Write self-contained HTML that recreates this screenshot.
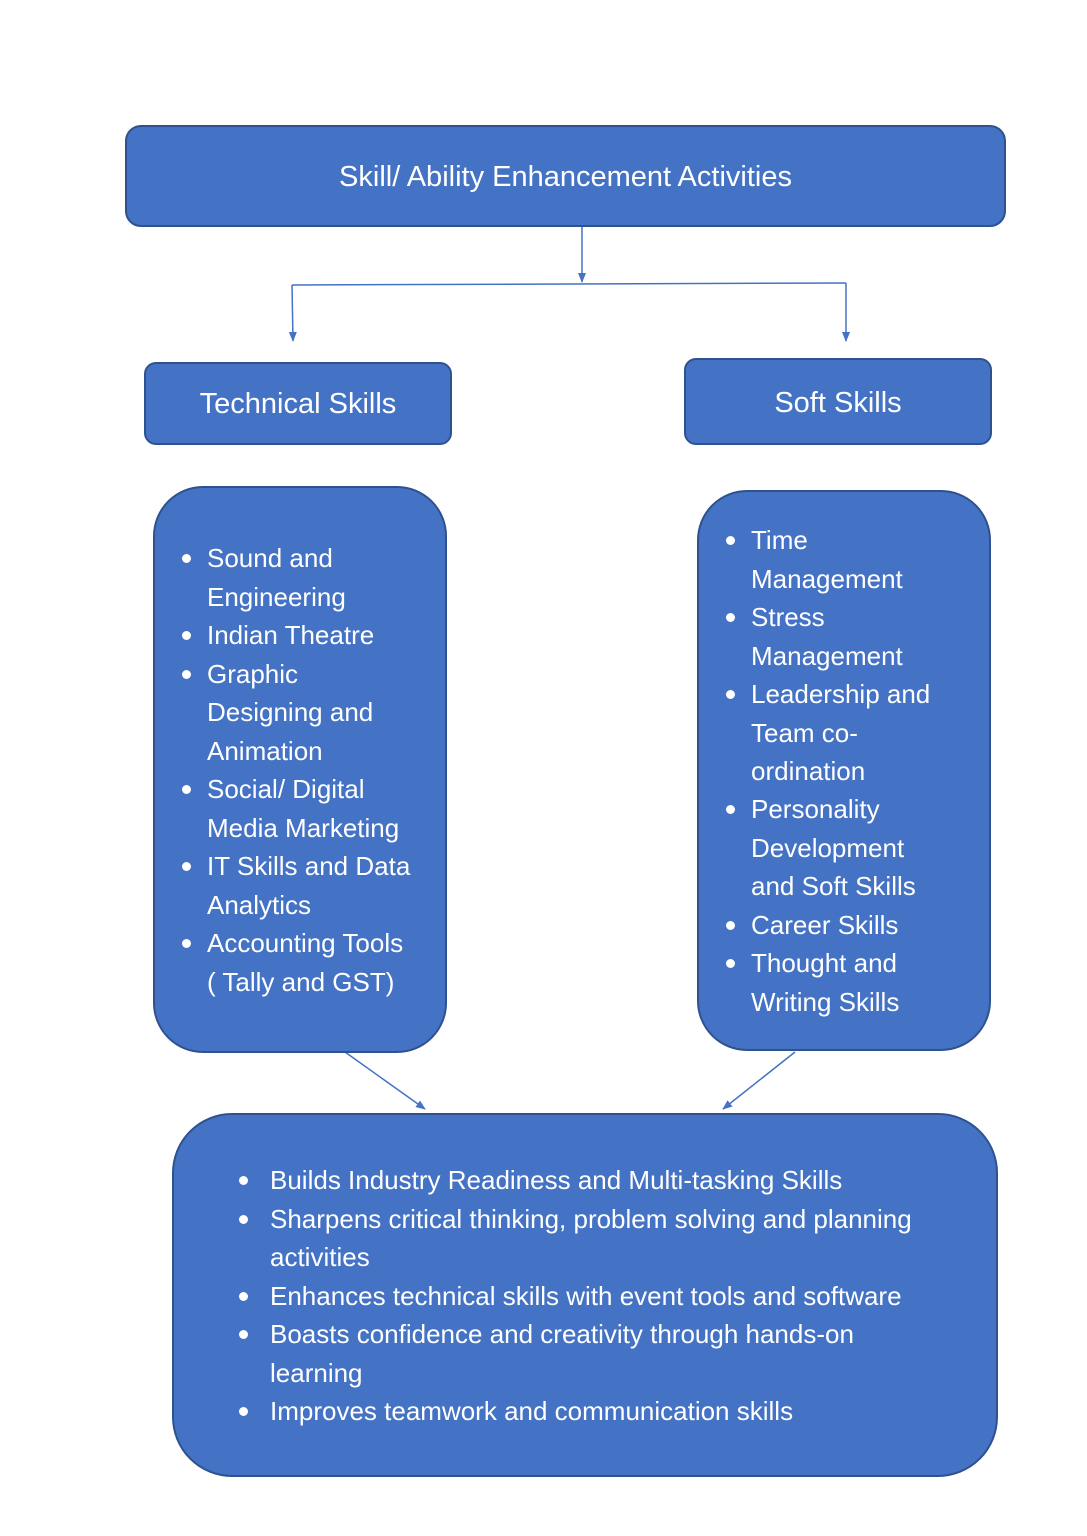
<!DOCTYPE html>
<html><head><meta charset="utf-8"><style>
body{margin:0;width:1087px;height:1536px;background:#fff;position:relative;font-family:"Liberation Sans",sans-serif;overflow:hidden}
.b{position:absolute;background:#4472C4;border:2px solid #2F528F;box-sizing:border-box}
.t{position:absolute;color:#fff;font-size:26px;white-space:nowrap;line-height:30px;transform:translateY(-15px)}
.d{position:absolute;width:9px;height:9px;border-radius:50%;background:#fff;transform:translate(-4px,-4px)}
</style></head><body>
<svg width="1087" height="1536" style="position:absolute;left:0;top:0">
<defs><marker id="a" markerWidth="10" markerHeight="10" refX="9" refY="5" orient="auto" markerUnits="userSpaceOnUse"><path d="M0,1 L10,5 L0,9 z" fill="#4472C4"/></marker></defs>
<g stroke="#4472C4" stroke-width="1.5" fill="none">
<line x1="582" y1="227" x2="582" y2="282" marker-end="url(#a)"/>
<polyline points="292,285 846,283"/>
<line x1="292" y1="285" x2="293" y2="341" marker-end="url(#a)"/>
<line x1="846" y1="283" x2="846" y2="341" marker-end="url(#a)"/>
<line x1="345" y1="1052" x2="425" y2="1109" marker-end="url(#a)"/>
<line x1="795" y1="1052" x2="723" y2="1109" marker-end="url(#a)"/>
</g></svg>
<div class="b" style="left:125px;top:125px;width:881px;height:102px;border-radius:16px"></div>
<div class="t" style="left:125px;width:881px;text-align:center;top:177px;font-size:29px">Skill/ Ability Enhancement Activities</div>
<div class="b" style="left:144px;top:362px;width:308px;height:83px;border-radius:12px"></div>
<div class="t" style="left:144px;width:308px;text-align:center;top:404px;font-size:29px">Technical Skills</div>
<div class="b" style="left:684px;top:358px;width:308px;height:87px;border-radius:12px"></div>
<div class="t" style="left:684px;width:308px;text-align:center;top:403px;font-size:29px">Soft Skills</div>
<div class="b" style="left:153px;top:486px;width:294px;height:567px;border-radius:50px"></div>
<div class="b" style="left:697px;top:490px;width:294px;height:561px;border-radius:50px"></div>
<div class="b" style="left:172px;top:1113px;width:826px;height:364px;border-radius:60px"></div>

<div class="d" style="left:186px;top:558px"></div><div class="t" style="left:207px;top:558px">Sound and</div>
<div class="t" style="left:207px;top:597px">Engineering</div>
<div class="d" style="left:186px;top:635px"></div><div class="t" style="left:207px;top:635px">Indian Theatre</div>
<div class="d" style="left:186px;top:674px"></div><div class="t" style="left:207px;top:674px">Graphic</div>
<div class="t" style="left:207px;top:712px">Designing and</div>
<div class="t" style="left:207px;top:751px">Animation</div>
<div class="d" style="left:186px;top:789px"></div><div class="t" style="left:207px;top:789px">Social/ Digital</div>
<div class="t" style="left:207px;top:828px">Media Marketing</div>
<div class="d" style="left:186px;top:866px"></div><div class="t" style="left:207px;top:866px">IT Skills and Data</div>
<div class="t" style="left:207px;top:905px">Analytics</div>
<div class="d" style="left:186px;top:943px"></div><div class="t" style="left:207px;top:943px">Accounting Tools</div>
<div class="t" style="left:207px;top:982px">( Tally and GST)</div>

<div class="d" style="left:730px;top:540px"></div><div class="t" style="left:751px;top:540px">Time</div>
<div class="t" style="left:751px;top:579px">Management</div>
<div class="d" style="left:730px;top:617px"></div><div class="t" style="left:751px;top:617px">Stress</div>
<div class="t" style="left:751px;top:656px">Management</div>
<div class="d" style="left:730px;top:694px"></div><div class="t" style="left:751px;top:694px">Leadership and</div>
<div class="t" style="left:751px;top:733px">Team co-</div>
<div class="t" style="left:751px;top:771px">ordination</div>
<div class="d" style="left:730px;top:809px"></div><div class="t" style="left:751px;top:809px">Personality</div>
<div class="t" style="left:751px;top:848px">Development</div>
<div class="t" style="left:751px;top:886px">and Soft Skills</div>
<div class="d" style="left:730px;top:925px"></div><div class="t" style="left:751px;top:925px">Career Skills</div>
<div class="d" style="left:730px;top:963px"></div><div class="t" style="left:751px;top:963px">Thought and</div>
<div class="t" style="left:751px;top:1002px">Writing Skills</div>

<div class="d" style="left:243px;top:1180px"></div><div class="t" style="left:270px;top:1180px">Builds Industry Readiness and Multi-tasking Skills</div>
<div class="d" style="left:243px;top:1219px"></div><div class="t" style="left:270px;top:1219px">Sharpens critical thinking, problem solving and planning</div>
<div class="t" style="left:270px;top:1257px">activities</div>
<div class="d" style="left:243px;top:1296px"></div><div class="t" style="left:270px;top:1296px">Enhances technical skills with event tools and software</div>
<div class="d" style="left:243px;top:1334px"></div><div class="t" style="left:270px;top:1334px">Boasts confidence and creativity through hands-on</div>
<div class="t" style="left:270px;top:1373px">learning</div>
<div class="d" style="left:243px;top:1411px"></div><div class="t" style="left:270px;top:1411px">Improves teamwork and communication skills</div>
</body></html>
